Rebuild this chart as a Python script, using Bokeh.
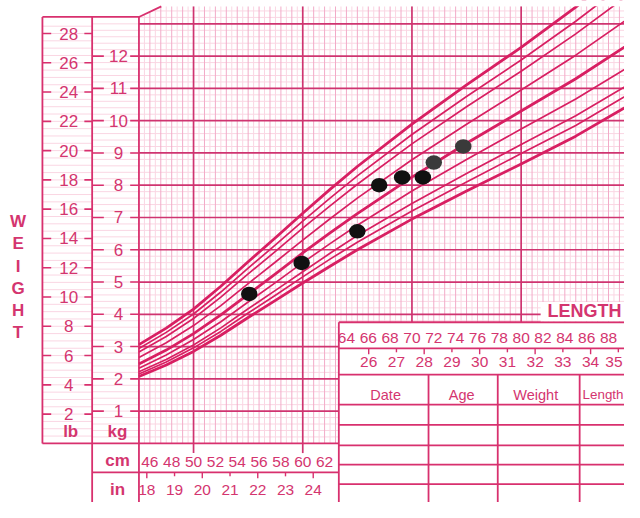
from bokeh.plotting import figure
from bokeh.models import Range1d
from bokeh.embed import file_html
from bokeh.resources import INLINE
from bokeh.core.properties import value

# ---------------- data ----------------
length_cm = [45, 47.5, 50, 52.5, 55, 57.5, 60, 62.5, 65, 70, 75, 80, 85, 90]
p98 = [3.06, 3.57, 4.16, 4.87, 5.63, 6.37, 7.13, 7.87, 8.58, 9.89, 11.11, 12.27, 13.52, 14.87]
p95 = [2.94, 3.44, 4.01, 4.69, 5.43, 6.15, 6.89, 7.60, 8.29, 9.57, 10.75, 11.88, 13.08, 14.37]
p90 = [2.83, 3.31, 3.87, 4.53, 5.25, 5.95, 6.67, 7.36, 8.03, 9.28, 10.43, 11.53, 12.69, 13.94]
p75 = [2.66, 3.12, 3.65, 4.27, 4.95, 5.62, 6.30, 6.96, 7.60, 8.79, 9.89, 10.95, 12.03, 13.21]
p50 = [2.46, 2.89, 3.40, 3.98, 4.62, 5.25, 5.90, 6.52, 7.12, 8.25, 9.30, 10.30, 11.30, 12.40]
p25 = [2.33, 2.74, 3.22, 3.77, 4.38, 4.98, 5.60, 6.19, 6.76, 7.82, 8.80, 9.74, 10.67, 11.70]
p10 = [2.22, 2.60, 3.05, 3.58, 4.17, 4.74, 5.32, 5.89, 6.44, 7.43, 8.36, 9.26, 10.15, 11.15]
p5 = [2.15, 2.52, 2.96, 3.47, 4.04, 4.59, 5.16, 5.71, 6.23, 7.20, 8.10, 8.98, 9.85, 10.85]
p2 = [2.07, 2.43, 2.85, 3.35, 3.90, 4.43, 4.97, 5.49, 6.00, 6.95, 7.82, 8.66, 9.52, 10.50]

pt_length = [55.1, 59.9, 65.0, 67.0, 69.1, 71.0, 72.0, 74.7]
pt_weight = [4.63, 5.59, 6.57, 8.00, 8.24, 8.24, 8.70, 9.20]
pt_color = ["#111111", "#111111", "#111111", "#111111", "#111111", "#111111", "#3a3a3a", "#3a3a3a"]

lb_labels = [2, 4, 6, 8, 10, 12, 14, 16, 18, 20, 22, 24, 26, 28]
kg_labels = [1, 2, 3, 4, 5, 6, 7, 8, 9, 10, 11, 12]
cm_labels_bottom = [46, 48, 50, 52, 54, 56, 58, 60, 62]
in_labels_bottom = [18, 19, 20, 21, 22, 23, 24]
cm_labels_top = [64, 66, 68, 70, 72, 74, 76, 78, 80, 82, 84, 86, 88]
in_labels_top = [26, 27, 28, 29, 30, 31, 32, 33, 34, 35]
table_headers = ["Date", "Age", "Weight"]
last_header = "Length"
axis_word = ["W", "E", "I", "G", "H", "T"]

# ---------------- layout helpers (reference pixel -> data) ----------------
def cx(X):
    return 50 + (X - 198) / 11.2

def ky(Y):
    return (457 - Y) / 33.3

XMIN, XMAX = cx(0), cx(640)
YMIN, YMAX = ky(518), ky(0)

PINK = "#d8306e"
TXT = "#d4356f"
CURVE = "#d81f62"
MED = "#f2abc8"
LIGHT = "#fad6e3"
THICK = "#cf3470"
FONT = value("Liberation Sans")

p = figure(width=624, height=502, x_range=Range1d(XMIN, XMAX), y_range=Range1d(YMIN, YMAX),
           output_backend="svg", toolbar_location=None, min_border=0,
           x_axis_location=None, y_axis_location=None)
p.grid.visible = False
p.outline_line_color = None
p.background_fill_color = "white"

X_TABLE = cx(347)
Y_TABLE = ky(332)
GRID_TOP = ky(6)
CH_X = cx(165)
LB_TOP = ky(17)
X_LB = cx(43)
X_KG = cx(94)

def top_at(x):
    if x >= CH_X:
        return GRID_TOP
    return LB_TOP + (x - 45) / (CH_X - 45) * (GRID_TOP - LB_TOP)

def bottom_at(x):
    return Y_TABLE if x > X_TABLE else 0.0

def left_at(y):
    if y <= LB_TOP:
        return 45.0
    return 45 + (y - LB_TOP) / (GRID_TOP - LB_TOP) * (CH_X - 45)

def right_at(y):
    return X_TABLE if y < Y_TABLE else XMAX + 1

def vlines(xs, color, width):
    p.segment(x0=xs, y0=[bottom_at(x) for x in xs], x1=xs, y1=[top_at(x) for x in xs],
              line_color=color, line_width=width)

def hlines(ys, color, width):
    p.segment(x0=[left_at(y) for y in ys], y0=ys, x1=[right_at(y) for y in ys], y1=ys,
              line_color=color, line_width=width)

# light grid
light_v = [45.5 + k for k in range(45)]
vlines(light_v, LIGHT, 1)
light_h = [i * 0.2 for i in range(1, 68) if i % 5 != 0]
hlines(light_h, LIGHT, 1)
# medium grid
med_v = [float(k) for k in range(46, 90) if k % 10 != 0]
vlines(med_v, MED, 1)
# thick grid
hlines([float(k) for k in range(1, 14)], THICK, 1.7)
thick_v = [50.0, 60.0, 70.0, 80.0]
vlines(thick_v, THICK, 1.7)
p.segment(x0=[50, 60], y0=[0, 0], x1=[50, 60], y1=[ky(467), ky(467)], line_color=THICK, line_width=1.7)

# lb / kg columns light lines
lb_minor = [k * 0.5 / 2.20462 for k in range(1, 58)]
p.segment(x0=[X_LB] * len(lb_minor), y0=lb_minor, x1=[X_KG] * len(lb_minor), y1=lb_minor,
          line_color=LIGHT, line_width=1)
kg_minor = [i * 0.2 for i in range(1, 66)]
p.segment(x0=[X_KG] * len(kg_minor), y0=kg_minor, x1=[45] * len(kg_minor), y1=kg_minor,
          line_color=LIGHT, line_width=1)

# ticks beside labels
lbk = [v / 2.20462 for v in lb_labels]
p.segment(x0=[X_LB] * len(lbk), y0=lbk, x1=[cx(52)] * len(lbk), y1=lbk, line_color=PINK, line_width=1.6)
p.segment(x0=[cx(86)] * len(lbk), y0=lbk, x1=[X_KG] * len(lbk), y1=lbk, line_color=PINK, line_width=1.6)
p.segment(x0=[X_KG] * len(kg_labels), y0=kg_labels, x1=[cx(106)] * len(kg_labels), y1=kg_labels,
          line_color=PINK, line_width=1.6)
p.segment(x0=[cx(133)] * len(kg_labels), y0=kg_labels, x1=[45] * len(kg_labels), y1=kg_labels,
          line_color=PINK, line_width=1.6)

# inch ticks
def in_ticks(inches, ytop, long_px, short_px):
    xs = [v * 2.54 for v in inches]
    y1 = [ytop - (long_px if v % 2 == 0 else short_px) / 33.3 for v in inches]
    p.segment(x0=xs, y0=[ytop] * len(xs), x1=xs, y1=y1, line_color=PINK, line_width=1.4)

in_ticks(in_labels_bottom, ky(487), 6, 4)
in_ticks(in_labels_top, ky(359), 6, 4)

# frame / borders
BOT = YMIN - 0.5
segs = [
    (X_LB, LB_TOP, X_LB, 0), (X_LB, LB_TOP, 45, LB_TOP), (45, LB_TOP, CH_X, GRID_TOP),
    (X_KG, LB_TOP, X_KG, BOT), (45, LB_TOP, 45, BOT),
    (X_LB, 0, X_TABLE, 0), (X_KG, ky(487), X_TABLE, ky(487)),
    (X_TABLE, Y_TABLE, X_TABLE, BOT), (X_TABLE, Y_TABLE, XMAX + 1, Y_TABLE),
]
for Y in [359, 386, 417, 438, 459, 479, 499]:
    segs.append((X_TABLE, ky(Y), XMAX + 1, ky(Y)))
for X in [439, 510, 594]:
    segs.append((cx(X), ky(386), cx(X), BOT))
p.segment(x0=[s[0] for s in segs], y0=[s[1] for s in segs], x1=[s[2] for s in segs],
          y1=[s[3] for s in segs], line_color=PINK, line_width=1.8)

# percentile curves
curves = [(p98, 2.8), (p95, 1.7), (p90, 1.7), (p75, 1.7), (p50, 2.8),
          (p25, 1.7), (p10, 1.7), (p5, 1.7), (p2, 2.8)]
for vals, w in curves:
    p.line(length_cm, vals, line_color=CURVE, line_width=w, line_join="round")

# mask above grid top
p.quad(left=[CH_X], right=[XMAX + 1], bottom=[GRID_TOP], top=[YMAX + 1], fill_color="white", line_color=None)
# white box behind LENGTH
p.quad(left=[cx(554)], right=[XMAX + 1], bottom=[ky(331)], top=[ky(311)], fill_color="white", line_color=None)

# data points
p.ellipse(x=pt_length, y=pt_weight, width=16.5, height=14.5, width_units="screen", height_units="screen",
          fill_color=pt_color, line_color=None)

# ---------------- text ----------------
def txt(xs, ys, labels, size, bold=False, align="center"):
    p.text(x=xs, y=ys, text=labels, text_font=FONT, text_font_size=value(size),
           text_font_style="bold" if bold else "normal", text_align=align,
           text_baseline="middle", text_color=TXT)

txt([cx(70)] * len(lb_labels), lbk, [str(v) for v in lb_labels], "17px")
txt([cx(121)] * len(kg_labels), kg_labels, [str(v) for v in kg_labels], "17px")
txt([cx(18)] * len(axis_word), [ky(228 + 23 * i) for i in range(len(axis_word))], axis_word, "17px", bold=True)
txt([cx(72), cx(120), cx(120), cx(120)], [ky(445), ky(445), ky(475), ky(505)], ["lb", "kg", "cm", "in"], "17px", bold=True)
txt(cm_labels_bottom, [ky(476)] * len(cm_labels_bottom), [str(v) for v in cm_labels_bottom], "15.5px")
txt([v * 2.54 for v in in_labels_bottom], [ky(505)] * len(in_labels_bottom), [str(v) for v in in_labels_bottom], "15.5px")
txt(cm_labels_top, [ky(348)] * len(cm_labels_top), [str(v) for v in cm_labels_top], "15.5px")
txt([v * 2.54 for v in in_labels_top[:-1]], [ky(373)] * (len(in_labels_top) - 1),
    [str(v) for v in in_labels_top[:-1]], "15.5px")
txt([cx(638)], [ky(373)], [str(in_labels_top[-1])], "15.5px", align="right")
txt([cx(395), cx(473), cx(549)], [ky(407)] * 3, table_headers, "14.5px")
txt([cx(597)], [ky(407)], [last_header], "13.4px", align="left")
p.text(x=[cx(637)], y=[ky(320)], text=["LENGTH"], text_font=FONT, text_font_size=value("18px"),
       text_font_style="bold", text_align="right", text_baseline="middle", text_color=TXT)

open("out.html", "w").write(file_html(p, INLINE))
